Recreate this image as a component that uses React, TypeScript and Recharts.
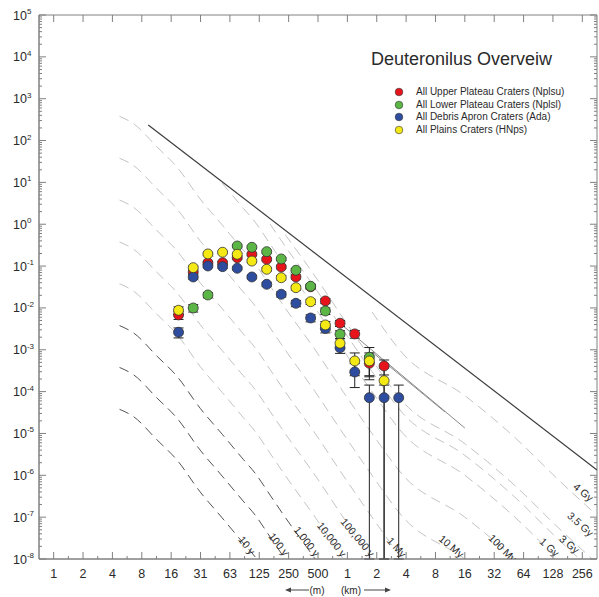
import React from 'react';
import {
  ComposedChart,
  Scatter,
  Line,
  XAxis,
  YAxis,
  ErrorBar,
  ReferenceArea,
  Legend,
  Customized,
} from 'recharts';

// crater diameter bin centres (km)
const binD = [0.0186, 0.0263, 0.0372, 0.0526, 0.0743, 0.105, 0.149, 0.21, 0.297, 0.42, 0.595, 0.841, 1.19, 1.68, 2.38, 3.36];

// incremental densities (per km^2), null = no point in that bin
const upperN = [0.0068, 0.072, 0.12, 0.12, 0.159, 0.191, 0.145, 0.0952, 0.055, 0.032, 0.0147, 0.0043, 0.00239, 0.000476, 0.00041, null];
const upperErr = [0.0015, 0.008, 0.01, 0.01, 0.012, 0.013, 0.011, 0.009, 0.006, 0.004, 0.002, 0.0007, 0.0005, 0.00025, 0.00016, null];

const lowerN = [null, 0.00997, 0.0204, null, 0.302, 0.281, 0.221, 0.148, 0.0794, 0.0329, 0.00845, 0.00235, null, 0.000662, null, null];
const lowerErr = [null, 0.002, 0.003, null, 0.02, 0.02, 0.016, 0.012, 0.008, 0.004, 0.0015, 0.0005, null, 0.00047, null, null];

const apronN = [0.00262, 0.0549, 0.1005, 0.0968, 0.0886, 0.0549, 0.0367, 0.0212, 0.0129, 0.00575, 0.00323, 0.00112, 0.000295, 0.0000716, 0.0000716, 0.0000716];
const apronErr = [0.0007, 0.006, 0.008, 0.008, 0.007, 0.005, 0.004, 0.003, 0.0022, 0.0011, 0.0007, 0.0003, 0.00017, 0.00007159, 0.00007159, 0.00007159];

const plainsN = [0.00879, 0.0917, 0.195, 0.214, 0.191, 0.132, 0.0839, 0.0528, 0.0305, 0.0141, 0.00392, 0.00143, 0.00054, 0.00054, 0.000183, null];
const plainsErr = [0.0018, 0.008, 0.012, 0.013, 0.012, 0.01, 0.008, 0.006, 0.004, 0.002, 0.0008, 0.0004, 0.0003, 0.0003, 0.00018299, null];

// isochron shape (1 Gy)
const isoD = [0.00462, 0.00644, 0.0112, 0.0179, 0.031, 0.0521, 0.0855, 0.1135, 0.1615, 0.23, 0.467, 0.904, 1.79, 3.72, 16.0, 52.1, 144, 362];
const isoN1Gy = [3780, 2520, 700, 233, 40, 9.6, 2.42, 1.12, 0.336, 0.1, 0.01, 0.001, 1e-4, 1e-5, 1e-6, 1e-7, 1e-8, 1.38e-9];

const isoAges = ['10 y', '100 y', '1,000 y', '10,000 y', '100,000 y', '1 My', '10 My', '100 My', '1 Gy', '3 Gy', '3.5 Gy', '4 Gy'];
const isoFactor = [1e-8, 1e-7, 1e-6, 1e-5, 1e-4, 1e-3, 0.01, 0.1, 1, 3, 5.7, 80];
const isoStartD = [0.00462, 0.00462, 0.00462, 0.00462, 0.00462, 0.00462, 0.00462, 0.00462, 0.0521, 0.1615, 0.23, 1.79];
const isoDark = [true, true, true, false, false, false, false, false, false, false, false, false];

// isochron label anchors and angles
const isoLabelD = [0.0917, 0.195, 0.378, 0.681, 1.257, 3.15, 11.5, 38.4, 116, 186, 241, 259];
const isoLabelN = [2.05e-8, 2.17e-8, 2.55e-8, 2.85e-8, 3.18e-8, 1.84e-8, 1.94e-8, 1.74e-8, 1.84e-8, 2.17e-8, 6.52e-8, 3.79e-7];
const isoLabelAngle = [52, 52, 52, 52, 50, 48, 40, 45, 42, 40, 42, 40];

// saturation equilibrium line + two fits near the data
const satD = [0.0091, 362];
const satN = [235, 1.34e-6];
const fitAD = [0.904, 16.0];
const fitAN = [0.00371, 1.35e-5];
const fitBD = [1.79, 10.0];
const fitBN = [0.000885, 3.27e-5];

// axes
const xMajorTicks = [0.0009765625, 0.001953125, 0.00390625, 0.0078125, 0.015625, 0.03125, 0.0625, 0.125, 0.25, 0.5, 1, 2, 4, 8, 16, 32, 64, 128, 256];
const xTickLabels = ['1', '2', '4', '8', '16', '31', '63', '125', '250', '500', '1', '2', '4', '8', '16', '32', '64', '128', '256'];
const yMajorTicks = [1e-8, 1e-7, 1e-6, 1e-5, 1e-4, 1e-3, 1e-2, 1e-1, 1, 10, 100, 1e3, 1e4, 1e5];

const X_DOMAIN = [0.00069053, 362.04];
const Y_DOMAIN = [1e-8, 1e5];

const W = 599;
const H = 597;
const MARGIN = { top: 15, right: 2, bottom: 0, left: 0 };
const Y_AXIS_W = 39;
const X_AXIS_H = 38;
const PLOT_W = W - Y_AXIS_W - MARGIN.right;
const PLOT_H = H - MARGIN.top - X_AXIS_H;

const axisColor = '#808080';
const textColor = '#2a2a2a';

const series = [
  { name: 'All Upper Plateau Craters (Nplsu)', color: '#e8141c', vals: upperN, errs: upperErr },
  { name: 'All Lower Plateau Craters (Nplsl)', color: '#5bb645', vals: lowerN, errs: lowerErr },
  { name: 'All Debris Apron Craters (Ada)', color: '#2e4d9e', vals: apronN, errs: apronErr },
  { name: 'All Plains Craters (HNps)', color: '#f4e914', vals: plainsN, errs: plainsErr },
];

const xMinorTicks = xMajorTicks.slice(0, -1).map((t) => t * Math.SQRT2);
const yMinorTicks = yMajorTicks.slice(0, -1).flatMap((t) => [2, 3, 4, 5, 6, 7, 8, 9].map((m) => t * m));

const isMajor = (list: number[], v: number) => list.findIndex((t) => Math.abs(t - v) / t < 1e-6);

const XTick = (props: any) => {
  const { x, y, payload } = props;
  const i = isMajor(xMajorTicks, payload.value);
  if (i < 0) {
    return <line x1={x} x2={x} y1={y} y2={y - 3} stroke={axisColor} />;
  }
  return (
    <g>
      <line x1={x} x2={x} y1={y} y2={y - 7} stroke={axisColor} />
      <line x1={x} x2={x} y1={y - PLOT_H} y2={y - PLOT_H + 7} stroke={axisColor} />
      <text x={x} y={y + 19} textAnchor="middle" fontSize={12.5} fill={textColor}>
        {xTickLabels[i]}
      </text>
    </g>
  );
};

const YTick = (props: any) => {
  const { x, y, payload } = props;
  const i = isMajor(yMajorTicks, payload.value);
  const len = i < 0 ? 3 : 7;
  return (
    <g>
      <line x1={x} x2={x + len} y1={y} y2={y} stroke={axisColor} />
      <line x1={x + PLOT_W} x2={x + PLOT_W - len} y1={y} y2={y} stroke={axisColor} />
      {i >= 0 && (
        <text x={x - 26} y={y + 4.5} fontSize={12.5} fill={textColor}>
          10
          <tspan dy={-5.5} fontSize={8}>
            {String(Math.round(Math.log10(yMajorTicks[i])))}
          </tspan>
        </text>
      )}
    </g>
  );
};

const dotShape = (fill: string) => (p: any) => (
  <circle cx={p.cx} cy={p.cy} r={5} fill={fill} stroke="#333" strokeWidth={0.8} />
);

const IsoLabel = (p: any) => (
  <text
    x={p.cx}
    y={p.cy}
    transform={`rotate(${p.payload.a} ${p.cx} ${p.cy})`}
    textAnchor="middle"
    dominantBaseline="middle"
    fontSize={10.5}
    fill={textColor}
  >
    {p.payload.t}
  </text>
);

const LegendBox = () => (
  <div style={{ fontSize: 10, lineHeight: '12.5px', color: textColor }}>
    {series.map((s) => (
      <div key={s.name} style={{ display: 'flex', alignItems: 'center', height: 12.5, whiteSpace: 'nowrap' }}>
        <svg width={12} height={10}>
          <circle cx={6} cy={5} r={3.8} fill={s.color} stroke="#333" strokeWidth={0.6} />
        </svg>
        <span style={{ marginLeft: 11 }}>{s.name}</span>
      </div>
    ))}
  </div>
);

const Decor = () => (
  <g fill={textColor}>
    <text x={371} y={65} fontSize={18}>Deuteronilus Overveiw</text>
    <line x1={289} y1={590} x2={309} y2={590} stroke="#444" />
    <path d="M285,590 l6,-2.5 v5 z" fill="#444" />
    <text x={317} y={593.5} textAnchor="middle" fontSize={10}>(m)</text>
    <text x={351} y={593.5} textAnchor="middle" fontSize={10}>(km)</text>
    <line x1={364} y1={590} x2={387} y2={590} stroke="#444" />
    <path d="M391,590 l-6,-2.5 v5 z" fill="#444" />
  </g>
);

export default function App() {
  const points = series.map((s) =>
    binD.flatMap((d, i) => (s.vals[i] == null ? [] : [{ d, n: s.vals[i], e: s.errs[i] }]))
  );
  const isochrons = isoFactor.map((f, k) =>
    isoD.flatMap((d, i) => (d < isoStartD[k] ? [] : [{ d, n: isoN1Gy[i] * f }]))
  );
  const labels = isoAges.map((t, i) => ({ d: isoLabelD[i], n: isoLabelN[i], t, a: isoLabelAngle[i] }));
  const sat = satD.map((d, i) => ({ d, n: satN[i] }));
  const fitA = fitAD.map((d, i) => ({ d, n: fitAN[i] }));
  const fitB = fitBD.map((d, i) => ({ d, n: fitBN[i] }));

  return (
    <div
      style={{
        position: 'absolute',
        left: 0,
        top: 0,
        width: W,
        height: H,
        background: '#fff',
        fontFamily: '"Liberation Sans", Arial, sans-serif',
      }}
    >
      <ComposedChart width={W} height={H} margin={MARGIN}>
        <XAxis
          dataKey="d"
          type="number"
          scale="log"
          domain={X_DOMAIN}
          allowDataOverflow
          ticks={[...xMajorTicks, ...xMinorTicks]}
          interval={0}
          tick={<XTick />}
          tickLine={false}
          tickSize={0}
          tickMargin={0}
          height={X_AXIS_H}
          axisLine={{ stroke: axisColor }}
        />
        <YAxis
          dataKey="n"
          type="number"
          scale="log"
          domain={Y_DOMAIN}
          allowDataOverflow
          ticks={[...yMajorTicks, ...yMinorTicks]}
          interval={0}
          tick={<YTick />}
          tickLine={false}
          tickSize={0}
          tickMargin={0}
          width={Y_AXIS_W}
          axisLine={{ stroke: axisColor }}
        />
        <ReferenceArea
          x1={X_DOMAIN[0]}
          x2={X_DOMAIN[1]}
          y1={Y_DOMAIN[0]}
          y2={Y_DOMAIN[1]}
          fill="none"
          stroke={axisColor}
          strokeWidth={1}
        />

        {isochrons.map((data, k) => (
          <Line
            key={isoAges[k]}
            data={data}
            dataKey="n"
            type="monotone"
            stroke={isoDark[k] ? '#555' : '#c4c4c4'}
            strokeWidth={1}
            strokeDasharray="10 6"
            dot={false}
            legendType="none"
            isAnimationActive={false}
          />
        ))}
        <Line data={sat} dataKey="n" type="linear" stroke="#3c3c3c" strokeWidth={1.2} dot={false} legendType="none" isAnimationActive={false} />
        <Line data={fitA} dataKey="n" type="linear" stroke="#8a8a8a" strokeWidth={1} dot={false} legendType="none" isAnimationActive={false} />
        <Line data={fitB} dataKey="n" type="linear" stroke="#8a8a8a" strokeWidth={1} dot={false} legendType="none" isAnimationActive={false} />

        {series.map((s, k) => (
          <Scatter key={s.name} name={s.name} data={points[k]} fill={s.color} shape={dotShape(s.color)} isAnimationActive={false}>
            <ErrorBar dataKey="e" direction="y" width={5} stroke="#222" strokeWidth={1} />
          </Scatter>
        ))}

        <Scatter data={labels} shape={IsoLabel} legendType="none" isAnimationActive={false} />

        <Legend
          layout="vertical"
          align="center"
          verticalAlign="middle"
          content={<LegendBox />}
          wrapperStyle={{ left: 393, top: 86, width: 200, height: 50 }}
        />
        <Customized component={<Decor />} />
      </ComposedChart>
    </div>
  );
}
